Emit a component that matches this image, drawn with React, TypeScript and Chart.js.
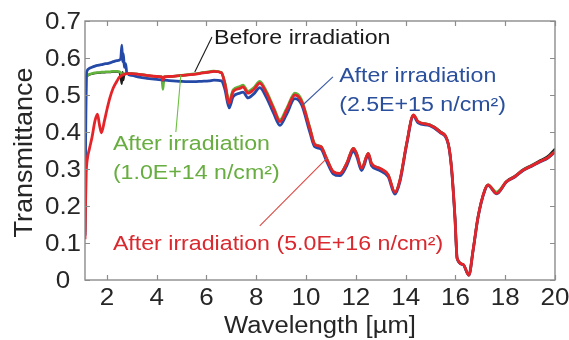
import React, { useEffect, useRef } from "react";
import { Chart, registerables } from "chart.js";

Chart.register(...registerables);

// Wavelength grid in µm shared by all four spectra
const wavelength = [
  1.12, 1.14, 1.17, 1.2, 1.3, 1.4, 1.52, 1.62, 1.7, 1.78,
  1.9, 2.0, 2.12, 2.25, 2.4, 2.5, 2.56, 2.6, 2.63, 2.66,
  2.7, 2.75, 2.8, 3.0, 3.3, 3.6, 4.0, 4.2, 4.25, 4.3,
  4.5, 5.0, 5.5, 5.8, 6.1, 6.3, 6.6, 6.74, 6.91, 7.07,
  7.34, 7.47, 7.67, 7.9, 8.14, 8.41, 8.7, 8.95, 9.22, 9.55,
  9.82, 10.15, 10.35, 10.6, 10.82, 11.09, 11.36, 11.63, 11.9, 12.03,
  12.23, 12.5, 12.63, 12.96, 13.3, 13.57, 13.77, 14.04, 14.31, 14.5,
  14.97, 15.37, 15.71, 15.84, 15.98, 16.07, 16.31, 16.54, 16.71, 16.91,
  17.18, 17.31, 17.65, 18.05, 18.4, 18.72, 19.05, 19.39, 19.7, 20.0,
];

// Before irradiation
const tBefore = [
  0.12, 0.37, 0.546, 0.552, 0.555, 0.557, 0.559, 0.56, 0.56, 0.561,
  0.561, 0.562, 0.562, 0.563, 0.563, 0.562, 0.545, 0.53, 0.562, 0.54,
  0.556, 0.557, 0.558, 0.558, 0.556, 0.553, 0.55, 0.549, 0.53, 0.549,
  0.55, 0.553, 0.556, 0.56, 0.562, 0.564, 0.56, 0.531, 0.48, 0.51,
  0.519, 0.523, 0.506, 0.516, 0.533, 0.506, 0.463, 0.429, 0.46, 0.501,
  0.483, 0.411, 0.367, 0.36, 0.329, 0.293, 0.288, 0.315, 0.356, 0.342,
  0.302, 0.342, 0.315, 0.302, 0.284, 0.237, 0.27, 0.369, 0.446, 0.428,
  0.42, 0.403, 0.37, 0.306, 0.171, 0.058, 0.042, 0.013, 0.081, 0.171,
  0.243, 0.257, 0.234, 0.267, 0.282, 0.299, 0.31, 0.323, 0.334, 0.355,
];

// After irradiation, 1.0E+14 n/cm²
const t1e14 = [
  0.13, 0.38, 0.548, 0.553, 0.556, 0.558, 0.56, 0.561, 0.561, 0.562,
  0.562, 0.563, 0.563, 0.564, 0.564, 0.563, 0.56, 0.555, 0.558, 0.556,
  0.557, 0.557, 0.558, 0.558, 0.556, 0.553, 0.55, 0.549, 0.515, 0.549,
  0.55, 0.553, 0.557, 0.56, 0.563, 0.565, 0.561, 0.534, 0.484, 0.514,
  0.523, 0.527, 0.51, 0.52, 0.537, 0.51, 0.467, 0.433, 0.464, 0.505,
  0.487, 0.413, 0.368, 0.361, 0.33, 0.293, 0.288, 0.315, 0.356, 0.342,
  0.302, 0.342, 0.315, 0.302, 0.284, 0.237, 0.27, 0.369, 0.446, 0.428,
  0.419, 0.401, 0.369, 0.306, 0.171, 0.058, 0.042, 0.013, 0.081, 0.171,
  0.243, 0.257, 0.238, 0.266, 0.28, 0.297, 0.308, 0.32, 0.33, 0.347,
];

// After irradiation, 2.5E+15 n/cm²
const t25e15 = [
  0.12, 0.35, 0.54, 0.565, 0.572, 0.575, 0.578, 0.58, 0.581, 0.582,
  0.584, 0.585, 0.587, 0.59, 0.593, 0.594, 0.6, 0.635, 0.59, 0.612,
  0.575, 0.585, 0.56, 0.553, 0.548, 0.545, 0.542, 0.541, 0.54, 0.54,
  0.539, 0.537, 0.536, 0.537, 0.538, 0.54, 0.538, 0.515, 0.465, 0.495,
  0.505, 0.508, 0.492, 0.503, 0.52, 0.493, 0.45, 0.418, 0.448, 0.49,
  0.474, 0.4, 0.36, 0.354, 0.322, 0.287, 0.282, 0.308, 0.348, 0.335,
  0.296, 0.336, 0.309, 0.296, 0.279, 0.232, 0.265, 0.365, 0.443, 0.425,
  0.417, 0.399, 0.367, 0.304, 0.17, 0.058, 0.041, 0.013, 0.08, 0.17,
  0.242, 0.256, 0.233, 0.265, 0.279, 0.296, 0.307, 0.319, 0.329, 0.346,
];

// After irradiation, 5.0E+16 n/cm²
const t5e16 = [
  0.11, 0.2, 0.29, 0.32, 0.355, 0.385, 0.43, 0.448, 0.42, 0.398,
  0.43, 0.46, 0.492, 0.518, 0.537, 0.548, 0.551, 0.553, 0.554, 0.555,
  0.556, 0.557, 0.558, 0.558, 0.556, 0.553, 0.55, 0.549, 0.54, 0.549,
  0.55, 0.553, 0.556, 0.559, 0.562, 0.564, 0.56, 0.53, 0.478, 0.509,
  0.518, 0.522, 0.505, 0.515, 0.532, 0.505, 0.462, 0.428, 0.459, 0.5,
  0.482, 0.41, 0.366, 0.36, 0.329, 0.293, 0.288, 0.315, 0.356, 0.342,
  0.302, 0.342, 0.315, 0.302, 0.284, 0.237, 0.27, 0.369, 0.446, 0.428,
  0.419, 0.401, 0.369, 0.306, 0.171, 0.058, 0.042, 0.013, 0.081, 0.171,
  0.243, 0.257, 0.234, 0.266, 0.28, 0.297, 0.308, 0.32, 0.33, 0.347,
];

const xTicks = [2, 4, 6, 8, 10, 12, 14, 16, 18, 20];
const yTicks = [0, 0.1, 0.2, 0.3, 0.4, 0.5, 0.6, 0.7];
const yTickLabels = ["0", "0.1", "0.2", "0.3", "0.4", "0.5", "0.6", "0.7"];

const X_TITLE = "Wavelength [µm]";
const Y_TITLE = "Transmittance";

const RED = "#e5242a";
const BLUE = "#2549a6";
const GREEN = "#62b33c";
const BLACK = "#1e1e1e";
const AXIS = "#8c8c8c";
const INK = "#262626";
const FONT = '"Liberation Sans", Arial, Helvetica, sans-serif';

// Callout texts anchored in data units (wavelength, transmittance)
const callouts = [
  { lines: ["Before irradiation"], at: [6.3, 0.639], color: "#1a1a1a", leader: [[6.22, 0.657], [5.53, 0.562]], leaderColor: "#1a1a1a" },
  { lines: ["After irradiation", "(2.5E+15 n/cm²)"], at: [11.33, 0.535], color: "#2a4f9c", leader: [[11.08, 0.549], [9.87, 0.473]], leaderColor: "#3a5aa5" },
  { lines: ["After irradiation", "(1.0E+14 n/cm²)"], at: [2.24, 0.351], color: "#67ad3f", leader: [[4.97, 0.554], [4.77, 0.4]], leaderColor: "#6cbf40" },
  { lines: ["After irradiation (5.0E+16 n/cm²)"], at: [2.24, 0.081], color: "#d9282e", leader: [[8.14, 0.146], [10.88, 0.332]], leaderColor: "#d94a45" },
];

function text(
  ctx: CanvasRenderingContext2D,
  s: string,
  x: number,
  y: number,
  size: number,
  stretch: number,
  color: string,
  align: CanvasTextAlign,
  rotate = 0
) {
  ctx.save();
  ctx.translate(x, y);
  if (rotate) ctx.rotate(rotate);
  ctx.scale(stretch, 1);
  ctx.font = `${size}px ${FONT}`;
  ctx.fillStyle = color;
  ctx.textAlign = align;
  ctx.textBaseline = "alphabetic";
  ctx.fillText(s, 0, 0);
  ctx.restore();
}

const framePlugin = {
  id: "frame",
  afterDraw(chart: any) {
    const { ctx, chartArea: a } = chart;
    const xs = chart.scales.x;
    const ys = chart.scales.y;
    ctx.save();

    // leader lines
    ctx.lineWidth = 1.1;
    for (const c of callouts) {
      ctx.strokeStyle = c.leaderColor;
      ctx.beginPath();
      ctx.moveTo(xs.getPixelForValue(c.leader[0][0]), ys.getPixelForValue(c.leader[0][1]));
      ctx.lineTo(xs.getPixelForValue(c.leader[1][0]), ys.getPixelForValue(c.leader[1][1]));
      ctx.stroke();
    }

    // axis box
    ctx.strokeStyle = AXIS;
    ctx.lineWidth = 1.4;
    ctx.strokeRect(a.left, a.top, a.right - a.left, a.bottom - a.top);

    // inward tick marks on all four sides
    ctx.lineWidth = 1.2;
    ctx.beginPath();
    for (const v of xTicks) {
      const px = Math.round(xs.getPixelForValue(v)) + 0.5;
      ctx.moveTo(px, a.bottom);
      ctx.lineTo(px, a.bottom - 5);
      ctx.moveTo(px, a.top);
      ctx.lineTo(px, a.top + 5);
    }
    for (const v of yTicks) {
      const py = Math.round(ys.getPixelForValue(v)) + 0.5;
      ctx.moveTo(a.left, py);
      ctx.lineTo(a.left + 5, py);
      ctx.moveTo(a.right, py);
      ctx.lineTo(a.right - 5, py);
    }
    ctx.stroke();

    // tick labels
    xTicks.forEach((v) => {
      text(ctx, String(v), xs.getPixelForValue(v), a.bottom + 24.5, 23, 1.13, INK, "center");
    });
    yTicks.forEach((v, i) => {
      text(ctx, yTickLabels[i], a.left - 22, ys.getPixelForValue(v) + 8.2, 23, 1.13, INK, "center");
    });

    // axis titles
    text(ctx, X_TITLE, (a.left + a.right) / 2, a.bottom + 53, 23.3, 1.1, INK, "center");
    text(ctx, Y_TITLE, 32, (a.top + a.bottom) / 2 + 2, 25, 1.08, INK, "center", -Math.PI / 2);

    // callout texts
    for (const c of callouts) {
      const x0 = xs.getPixelForValue(c.at[0]);
      const y0 = ys.getPixelForValue(c.at[1]);
      c.lines.forEach((s, i) => {
        text(ctx, s, x0, y0 + i * 29, 19.9, 1.165, c.color, "left");
      });
    }
    ctx.restore();
  },
};

function series(label: string, values: number[], color: string, width: number, order: number) {
  return {
    label,
    data: wavelength.map((w, i) => ({ x: w, y: values[i] })),
    borderColor: color,
    backgroundColor: color,
    borderWidth: width,
    pointRadius: 0,
    cubicInterpolationMode: "monotone" as const,
    order,
  };
}

export default function App() {
  const ref = useRef<HTMLCanvasElement>(null);

  useEffect(() => {
    if (!ref.current) return;
    const chart = new Chart(ref.current, {
      type: "line",
      data: {
        datasets: [
          series("After irradiation (5.0E+16 n/cm²)", t5e16, RED, 2.8, 0),
          series("After irradiation (2.5E+15 n/cm²)", t25e15, BLUE, 2.8, 1),
          series("After irradiation (1.0E+14 n/cm²)", t1e14, GREEN, 2.6, 2),
          series("Before irradiation", tBefore, BLACK, 2.2, 3),
        ],
      },
      options: {
        responsive: false,
        animation: false,
        layout: { padding: { left: 85, top: 21, right: 14, bottom: 60 } },
        plugins: { legend: { display: false }, tooltip: { enabled: false } },
        scales: {
          x: { type: "linear", display: false, min: 1.12, max: 20 },
          y: { type: "linear", display: false, min: 0, max: 0.7 },
        },
      },
      plugins: [framePlugin],
    });
    return () => chart.destroy();
  }, []);

  return (
    <div style={{ position: "fixed", left: 0, top: 0, width: 569, height: 340, background: "#fff" }}>
      <canvas ref={ref} width={569} height={340} />
    </div>
  );
}
